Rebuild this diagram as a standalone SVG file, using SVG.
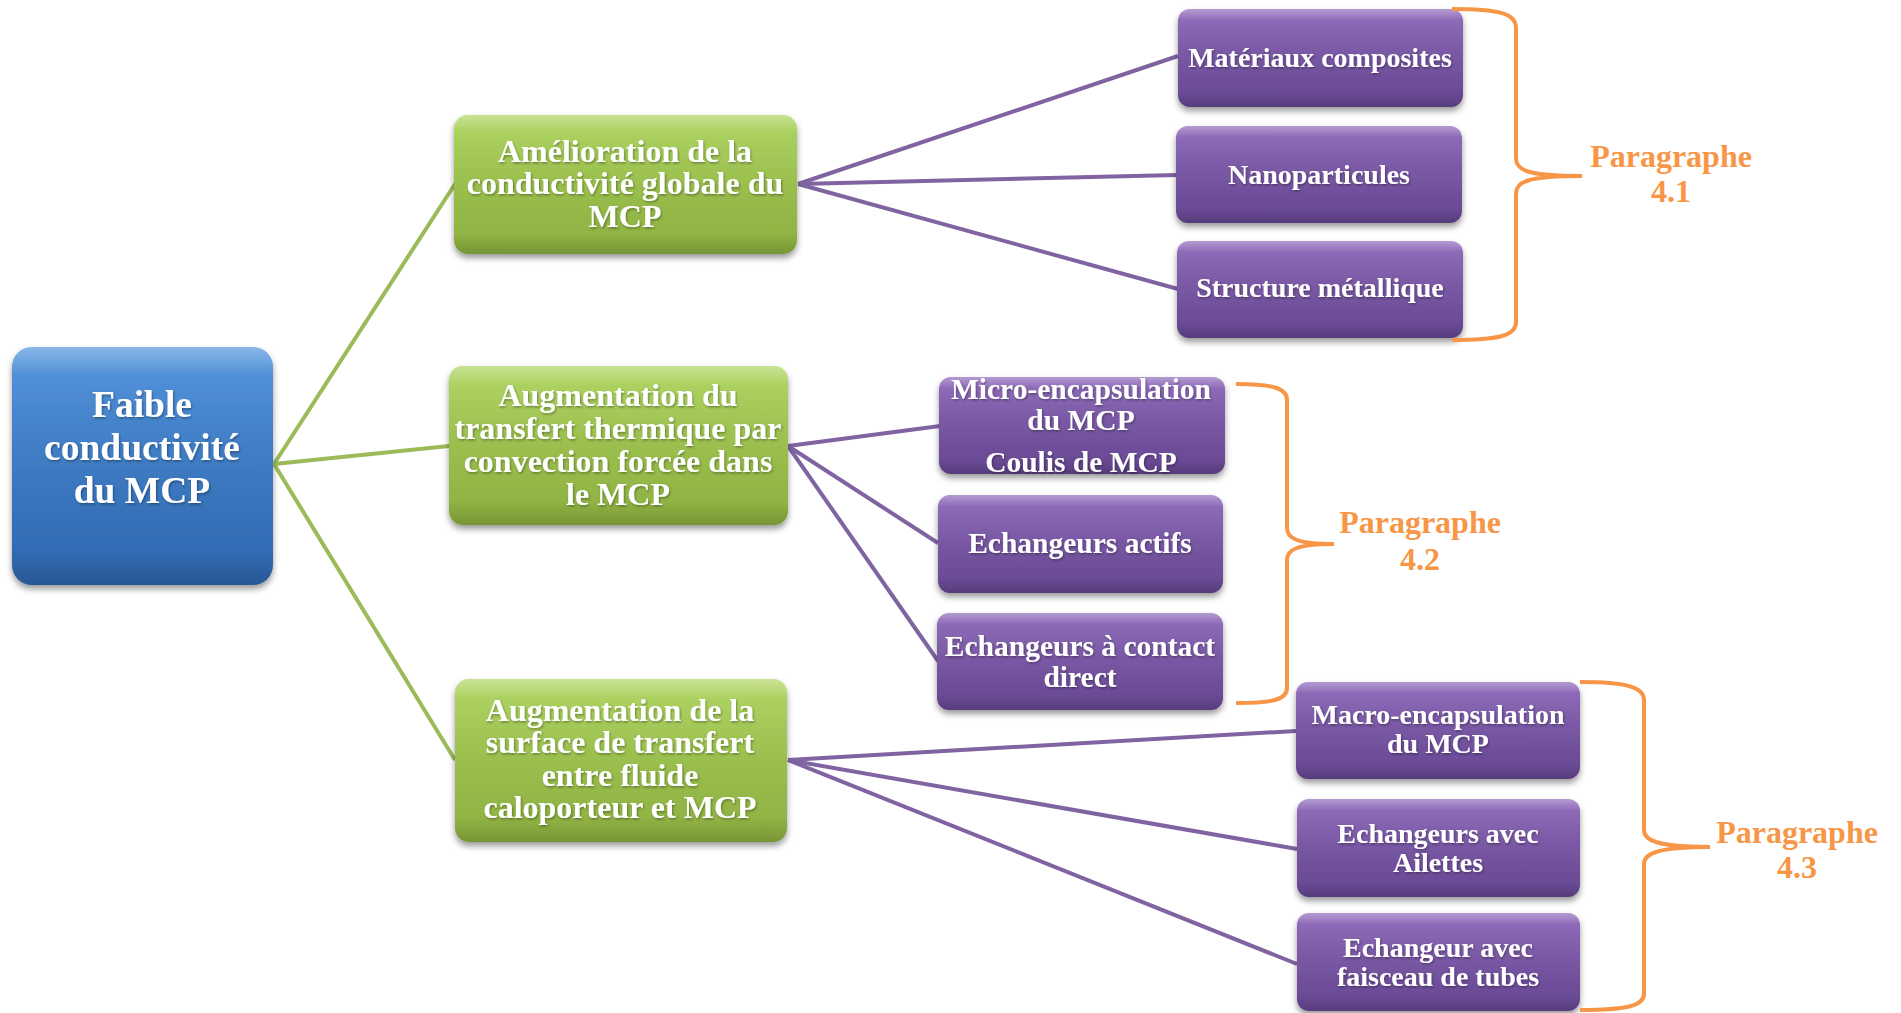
<svg xmlns="http://www.w3.org/2000/svg" width="1901" height="1013" viewBox="0 0 1901 1013">
<defs>
<linearGradient id="gBlue" x1="0" y1="0" x2="0" y2="1"><stop offset="0" stop-color="#4A8FDB"/><stop offset="1" stop-color="#2E66AE"/></linearGradient>
<linearGradient id="gGreen" x1="0" y1="0" x2="0" y2="1"><stop offset="0" stop-color="#ABD35B"/><stop offset="1" stop-color="#8CAF40"/></linearGradient>
<linearGradient id="gPurple" x1="0" y1="0" x2="0" y2="1"><stop offset="0" stop-color="#8B66B8"/><stop offset="1" stop-color="#654690"/></linearGradient>
<linearGradient id="gloss" x1="0" y1="0" x2="0" y2="1"><stop offset="0" stop-color="#fff" stop-opacity="0.35"/><stop offset="0.12" stop-color="#fff" stop-opacity="0.05"/><stop offset="0.85" stop-color="#000" stop-opacity="0"/><stop offset="1" stop-color="#000" stop-opacity="0.15"/></linearGradient>
<filter id="sh" x="-10%" y="-10%" width="120%" height="130%"><feDropShadow dx="0" dy="4" stdDeviation="3" flood-color="#000" flood-opacity="0.4"/></filter>
<filter id="tsh" x="-5%" y="-20%" width="110%" height="150%"><feDropShadow dx="1" dy="1.5" stdDeviation="1" flood-color="#000" flood-opacity="0.35"/></filter>
</defs>
<style>
.t{font-family:"Liberation Serif","Times New Roman",serif;font-weight:bold;fill:#fff;text-anchor:middle;filter:url(#tsh)}
.root{font-size:37.5px}
.g{font-size:32px}
.p{font-size:28px}
.p2{font-size:29.5px}
.para{font-family:"Liberation Serif","Times New Roman",serif;font-weight:bold;fill:#F79646;text-anchor:middle;font-size:32px}
.cg{stroke:#9BBB59;stroke-width:4;fill:none}
.cp{stroke:#8064A2;stroke-width:4;fill:none}
.br{stroke:#F79646;stroke-width:4;fill:none}
</style>
<rect width="1901" height="1013" fill="#fff"/>
<g id="connectors">
<line class="cg" x1="274" y1="464" x2="455" y2="184"/>
<line class="cg" x1="274" y1="464" x2="449" y2="446"/>
<line class="cg" x1="274" y1="464" x2="455" y2="760"/>
<line class="cp" x1="798" y1="184" x2="1178" y2="56"/>
<line class="cp" x1="798" y1="184" x2="1177" y2="175"/>
<line class="cp" x1="798" y1="184" x2="1178" y2="289"/>
<line class="cp" x1="788" y1="446" x2="940" y2="426"/>
<line class="cp" x1="788" y1="446" x2="938" y2="543"/>
<line class="cp" x1="788" y1="446" x2="938" y2="661"/>
<line class="cp" x1="788" y1="760" x2="1296" y2="731"/>
<line class="cp" x1="788" y1="760" x2="1297" y2="849"/>
<line class="cp" x1="788" y1="760" x2="1297" y2="964"/>
</g>
<g id="root">
<rect x="12" y="347" width="261" height="238" rx="20" fill="url(#gBlue)" filter="url(#sh)"/>
<rect x="12" y="347" width="261" height="238" rx="20" fill="url(#gloss)"/>
<text class="t root" x="142" y="417">Faible</text>
<text class="t root" x="142" y="460">conductivité</text>
<text class="t root" x="142" y="503">du MCP</text>
</g>
<g id="g1">
<rect x="454" y="115" width="343" height="139" rx="14" fill="url(#gGreen)" filter="url(#sh)"/>
<rect x="454" y="115" width="343" height="139" rx="14" fill="url(#gloss)"/>
<text class="t g" x="625" y="162">Amélioration de la</text>
<text class="t g" x="625" y="194">conductivité globale du</text>
<text class="t g" x="625" y="227">MCP</text>
</g>
<g id="g2">
<rect x="449" y="366" width="339" height="159" rx="14" fill="url(#gGreen)" filter="url(#sh)"/>
<rect x="449" y="366" width="339" height="159" rx="14" fill="url(#gloss)"/>
<text class="t g" x="618" y="406">Augmentation du</text>
<text class="t g" x="618" y="439">transfert thermique par</text>
<text class="t g" x="618" y="472">convection forcée dans</text>
<text class="t g" x="618" y="505">le MCP</text>
</g>
<g id="g3">
<rect x="455" y="679" width="332" height="163" rx="14" fill="url(#gGreen)" filter="url(#sh)"/>
<rect x="455" y="679" width="332" height="163" rx="14" fill="url(#gloss)"/>
<text class="t g" x="620" y="721">Augmentation de la</text>
<text class="t g" x="620" y="753">surface de transfert</text>
<text class="t g" x="620" y="786">entre fluide</text>
<text class="t g" x="620" y="818">caloporteur et MCP</text>
</g>
<g id="p1">
<rect x="1178" y="9" width="285" height="98" rx="12" fill="url(#gPurple)" filter="url(#sh)"/>
<rect x="1178" y="9" width="285" height="98" rx="12" fill="url(#gloss)"/>
<text class="t p" x="1320" y="67">Matériaux composites</text>
</g>
<g id="p2">
<rect x="1176" y="126" width="286" height="97" rx="12" fill="url(#gPurple)" filter="url(#sh)"/>
<rect x="1176" y="126" width="286" height="97" rx="12" fill="url(#gloss)"/>
<text class="t p" x="1319" y="184">Nanoparticules</text>
</g>
<g id="p3">
<rect x="1177" y="241" width="286" height="97" rx="12" fill="url(#gPurple)" filter="url(#sh)"/>
<rect x="1177" y="241" width="286" height="97" rx="12" fill="url(#gloss)"/>
<text class="t p" x="1320" y="297">Structure métallique</text>
</g>
<g id="p4">
<rect x="939" y="377" width="286" height="97" rx="12" fill="url(#gPurple)" filter="url(#sh)"/>
<rect x="939" y="377" width="286" height="97" rx="12" fill="url(#gloss)"/>
<text class="t p2" x="1081" y="399">Micro-encapsulation</text>
<text class="t p2" x="1081" y="430">du MCP</text>
<text class="t p2" x="1081" y="472">Coulis de MCP</text>
</g>
<g id="p5">
<rect x="938" y="495" width="285" height="98" rx="12" fill="url(#gPurple)" filter="url(#sh)"/>
<rect x="938" y="495" width="285" height="98" rx="12" fill="url(#gloss)"/>
<text class="t p2" x="1080" y="553">Echangeurs actifs</text>
</g>
<g id="p6">
<rect x="937" y="613" width="286" height="97" rx="12" fill="url(#gPurple)" filter="url(#sh)"/>
<rect x="937" y="613" width="286" height="97" rx="12" fill="url(#gloss)"/>
<text class="t p2" x="1080" y="656">Echangeurs à contact</text>
<text class="t p2" x="1080" y="687">direct</text>
</g>
<g id="p7">
<rect x="1296" y="682" width="284" height="97" rx="12" fill="url(#gPurple)" filter="url(#sh)"/>
<rect x="1296" y="682" width="284" height="97" rx="12" fill="url(#gloss)"/>
<text class="t p" x="1438" y="724">Macro-encapsulation</text>
<text class="t p" x="1438" y="753">du MCP</text>
</g>
<g id="p8">
<rect x="1297" y="799" width="283" height="98" rx="12" fill="url(#gPurple)" filter="url(#sh)"/>
<rect x="1297" y="799" width="283" height="98" rx="12" fill="url(#gloss)"/>
<text class="t p" x="1438" y="843">Echangeurs avec</text>
<text class="t p" x="1438" y="872">Ailettes</text>
</g>
<g id="p9">
<rect x="1297" y="913" width="283" height="98" rx="12" fill="url(#gPurple)" filter="url(#sh)"/>
<rect x="1297" y="913" width="283" height="98" rx="12" fill="url(#gloss)"/>
<text class="t p" x="1438" y="957">Echangeur avec</text>
<text class="t p" x="1438" y="986">faisceau de tubes</text>
</g>
<g id="brace1">
<path class="br" d="M1452,9 C1498,9 1516,13 1516,28 L1516,158 C1516,170 1526,176 1582,176 C1526,176 1516,182 1516,194 L1516,322 C1516,336 1498,340 1452,340"/>
<text class="para" x="1671" y="167">Paragraphe</text>
<text class="para" x="1671" y="202">4.1</text>
</g>
<g id="brace2">
<path class="br" d="M1236,384 C1272,384 1287,388 1287,400 L1287,528 C1287,538 1296,544 1334,544 C1296,544 1287,550 1287,560 L1287,688 C1287,700 1272,703 1236,703"/>
<text class="para" x="1420" y="533">Paragraphe</text>
<text class="para" x="1420" y="570">4.2</text>
</g>
<g id="brace3">
<path class="br" d="M1580,682 C1626,682 1644,687 1644,700 L1644,830 C1644,840 1656,847 1710,847 C1656,847 1644,854 1644,864 L1644,994 C1644,1006 1626,1010 1580,1010"/>
<text class="para" x="1797" y="843">Paragraphe</text>
<text class="para" x="1797" y="878">4.3</text>
</g>
</svg>
